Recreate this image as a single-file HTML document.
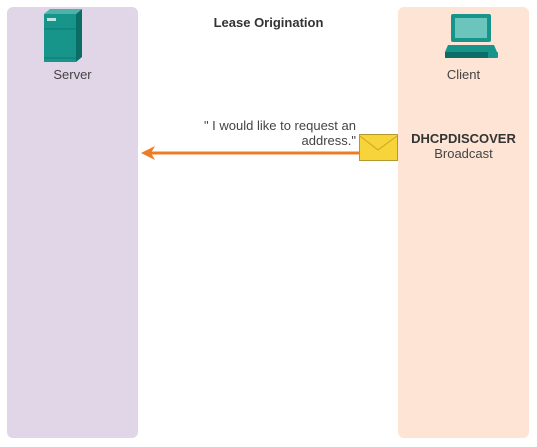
<!DOCTYPE html>
<html><head><style>
body{margin:0;width:537px;height:447px;background:#fff;position:relative;font-family:"Liberation Sans",Arial,sans-serif;overflow:hidden}
.p{position:absolute;top:7px;height:431px;border-radius:6px}
.t{position:absolute;color:#444;font-size:13px}
</style></head><body>
<div class="p" style="left:7px;width:131px;background:#e1d5e8"></div>
<div class="p" style="left:398px;width:131px;background:#fde4d4"></div>
<div class="t" style="left:0;width:537px;text-align:center;top:15px;font-weight:bold;color:#333">Lease Origination</div>
<svg style="position:absolute;left:0;top:0" width="537" height="447">
<polygon points="44,14 50,9 82,9 76,14" fill="#4db3a8"/>
<polygon points="76,14 82,9 82,57 76,62" fill="#0a6e66"/>
<rect x="44" y="14" width="32" height="48" fill="#17958a"/>
<line x1="44" y1="29" x2="76" y2="29" stroke="#0b7a70"/>
<line x1="44" y1="58" x2="76" y2="58" stroke="#0b7a70"/>
<rect x="47" y="18" width="9" height="3" fill="#bfe6e1"/>
<rect x="451" y="14" width="40" height="28" rx="2" fill="#17958a"/>
<rect x="455" y="18" width="32" height="20" fill="#6cc5bc"/>
<polygon points="448,45 494,45 497,52 445,52" fill="#17958a"/>
<rect x="445" y="52" width="52" height="6" fill="#0a6e66"/>
<rect x="488" y="52" width="10" height="6" rx="1" fill="#17958a"/>
<line x1="150" y1="153" x2="360" y2="153" stroke="#f07b25" stroke-width="3"/>
<polygon points="141,153 155,146 151,153 155,160" fill="#f07b25"/>
<rect x="359.5" y="134.5" width="38" height="26" fill="#f8d43b" stroke="#b39a30"/>
<polyline points="360,136 378,150 397,136" fill="none" stroke="#c9a52a"/>
</svg>
<div class="t" style="left:7px;width:131px;text-align:center;top:67px">Server</div>
<div class="t" style="left:398px;width:131px;text-align:center;top:67px">Client</div>
<div class="t" style="left:180px;width:176px;text-align:right;top:118px;line-height:15px">" I would like to request an address."</div>
<div class="t" style="left:398px;width:131px;text-align:center;top:131px;line-height:15px"><b style="color:#333">DHCPDISCOVER</b><br>Broadcast</div>
</body></html>
